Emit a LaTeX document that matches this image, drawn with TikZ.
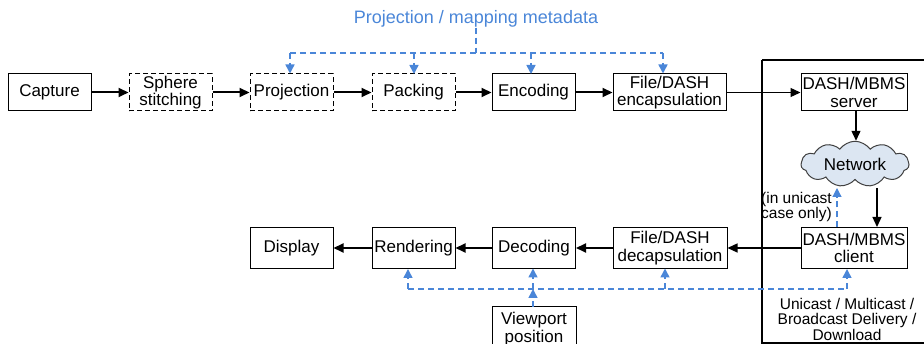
\documentclass[tikz,border=0pt]{standalone}
\usepackage{fontspec}
\setmainfont{Liberation Sans}
\usetikzlibrary{arrows.meta,shapes.symbols}
\definecolor{metablue}{RGB}{74,134,216}
\definecolor{cloudfill}{RGB}{220,230,242}
\begin{document}
\begin{tikzpicture}[x=1pt,y=-1pt,
  box/.style={draw,line width=1pt,minimum height=37pt,minimum width=83pt,inner sep=0pt,
    align=center,font=\fontsize{17}{17.5}\selectfont},
  dbox/.style={box,dash pattern=on 5pt off 3pt},
  flow/.style={line width=2pt,-{Triangle[length=10pt,width=9pt]}},
  thinflow/.style={line width=1.3pt,-{Triangle[length=10pt,width=9pt]}},
  meta/.style={metablue,line width=1.5pt,dash pattern=on 6pt off 4pt},
  metaarrow/.style={meta,-{Triangle[length=9pt,width=9pt]}},
  lbl/.style={align=center,inner sep=0pt,font=\fontsize{15.5}{15.5}\selectfont}]
\useasboundingbox (0,0) rectangle (924,344);
% system boundary
\draw[line width=1.1pt] (762,60) -- (930,60) (762,60) -- (762,343) -- (930,343);
% top row
\node[box] (cap) at (49.5,92.5) {Capture};
\node[dbox] (sph) at (170.5,92.5) {Sphere\\stitching};
\node[dbox] (proj) at (291.5,92.5) {Projection};
\node[dbox] (pack) at (413.5,92.5) {Packing};
\node[box] (enc) at (533.5,92.5) {Encoding};
\node[box,minimum width=113pt] (encap) at (669.5,92.5) {File/DASH\\encapsulation};
\node[box,minimum width=106pt] (srv) at (854,92.5) {DASH/MBMS\\server};
% cloud
\node[cloud,cloud puffs=11,cloud puff arc=110,aspect=2.6,draw=black!75,line width=1pt,
  fill=cloudfill,minimum width=108pt,minimum height=44pt,inner sep=0pt,
  font=\fontsize{17}{17.5}\selectfont] (net) at (855,164) {Network};
% bottom row
\node[box,minimum height=41pt] (disp) at (291.5,248) {Display};
\node[box,minimum height=41pt] (rend) at (413.5,248) {Rendering};
\node[box,minimum height=41pt] (dec) at (534,248) {Decoding};
\node[box,minimum height=41pt,minimum width=114pt] (decap) at (670,248) {File/DASH\\decapsulation};
\node[box,minimum height=41pt,minimum width=106pt] (cli) at (854,248) {DASH/MBMS\\client};
\node[box,minimum height=44pt,minimum width=84pt] (vp) at (534,329) {Viewport\\position};
% flows
\draw[flow] (cap) -- (sph);
\draw[flow] (sph) -- (proj);
\draw[flow] (proj) -- (pack);
\draw[flow] (pack) -- (enc);
\draw[flow] (enc) -- (encap);
\draw[thinflow] (encap) -- (srv);
\coordinate (srvb) at (856,111);
\coordinate (netb) at (877,188);
\draw[thinflow] (srvb) -- (srvb |- net.north);
\draw[thinflow] (netb) -- (netb |- cli.north);
\draw[thinflow] (cli) -- (decap);
\draw[flow] (decap) -- (dec);
\draw[flow] (dec) -- (rend);
\draw[flow] (rend) -- (disp);
% metadata (top)
\node[lbl,text=metablue,font=\fontsize{18}{18}\selectfont] (mlbl) at (476,19) {Projection / mapping metadata};
\coordinate (mt) at (476,53);
\coordinate (mL) at (290,53);
\coordinate (mR) at (663,53);
\draw[meta] (mlbl.south) -- (mt);
\draw[meta] (mL) -- (mR);
\draw[metaarrow] (mL) -- (mL |- proj.north);
\draw[metaarrow] (414,53) -- (414,74);
\draw[metaarrow] (531,53) -- (531,74);
\draw[metaarrow] (mR) -- (mR |- encap.north);
% viewport (bottom)
\coordinate (bL) at (408,289);
\coordinate (bR) at (847,289);
\draw[meta] (bL) -- (bR);
\draw[metaarrow] (bL) -- (bL |- rend.south);
\draw[metaarrow] (533,289) -- (533,268.5);
\draw[metaarrow] (665,289) -- (665,268.5);
\draw[metaarrow] (bR) -- (bR |- cli.south);
\draw[metaarrow] (533,307) -- (533,289);
% unicast feedback
\coordinate (uc) at (837,227.5);
\draw[metaarrow,line width=1.2pt] (uc) -- (837,188);
\node[lbl,anchor=east,align=right] (uclbl) at (832,207) {(in unicast\\case only)};
\node[lbl] (deliv) at (847,319) {Unicast / Multicast /\\Broadcast Delivery /\\Download};
\end{tikzpicture}
\end{document}
